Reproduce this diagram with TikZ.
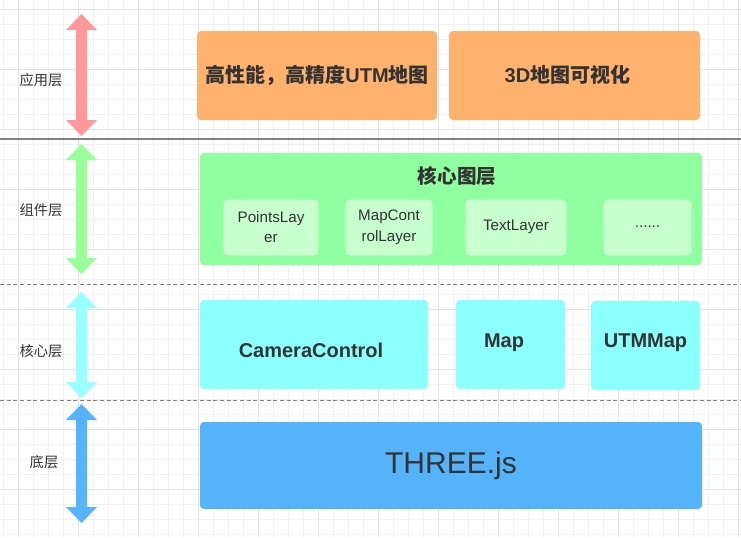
\documentclass[tikz,border=0pt]{standalone}
\usepackage{fontspec}
\setmainfont{Liberation Sans}
\newfontfamily\cjk{Noto Sans CJK SC}
\definecolor{txt}{HTML}{333333}
\definecolor{gridminor}{HTML}{F0F0F0}
\definecolor{gridmajor}{HTML}{E2E2E2}
\definecolor{sepline}{HTML}{808080}
\definecolor{orangebox}{HTML}{FFB26E}
\definecolor{greenbox}{HTML}{8FFF9F}
\definecolor{greeninner}{HTML}{C8FFCE}
\definecolor{greeninnerline}{HTML}{D6FFDC}
\definecolor{cyanbox}{HTML}{8CFFFF}
\definecolor{bluebox}{HTML}{55B3FA}
\definecolor{arrred}{HTML}{FF9999}
\definecolor{arrgreen}{HTML}{99FF99}
\definecolor{arrcyan}{HTML}{99FFFF}
\definecolor{arrblue}{HTML}{55B3FF}
\newcommand\mydblarrow[3]{%
  \fill[#1] (81.5,#2) -- (97,#2+16) -- (87,#2+16) -- (87,#3-16) -- (97,#3-16)
    -- (81.5,#3) -- (66,#3-16) -- (76,#3-16) -- (76,#2+16) -- (66,#2+16) -- cycle;}
\begin{document}
\begin{tikzpicture}[x=0.75pt,y=-0.75pt,
  box/.style={rounded corners=3pt, inner sep=0pt, draw=none},
  orangestyle/.style={box, fill=orangebox},
  greenstyle/.style={box, fill=greenbox},
  innerstyle/.style={box, fill=greeninner, draw=greeninnerline, line width=0.6pt},
  cyanstyle/.style={box, fill=cyanbox},
  bluestyle/.style={box, fill=bluebox},
  bigtext/.style={text=txt, font=\bfseries\fontsize{15pt}{18pt}\selectfont, inner sep=0pt},
  innertext/.style={text=txt, font=\fontsize{11.4pt}{15.5pt}\selectfont, align=center, inner sep=0pt},
  sidetext/.style={text=txt, font=\cjk\fontsize{10.7pt}{13pt}\selectfont, inner sep=0pt},
  sep/.style={draw=sepline, line width=0.8pt},
  dsep/.style={sep, dash pattern=on 3pt off 2pt}]
\useasboundingbox (0,0) rectangle (741,537);
\fill[white] (0,0) rectangle (741,537);
% grid
\foreach \x in {3,18,...,741} \draw[gridminor, line width=0.6pt] (\x,0) -- (\x,537);
\foreach \y in {9,24,...,537} \draw[gridminor, line width=0.6pt] (0,\y) -- (741,\y);
\foreach \x in {18,78,...,741} \draw[gridmajor, line width=0.6pt] (\x,0) -- (\x,537);
\foreach \y in {9,69,...,537} \draw[gridmajor, line width=0.6pt] (0,\y) -- (741,\y);
% separators
\coordinate (s1a) at (0,139); \coordinate (s1b) at (741,139);
\coordinate (s2a) at (0,284.5); \coordinate (s2b) at (741,284.5);
\coordinate (s3a) at (0,400.5); \coordinate (s3b) at (741,400.5);
\draw[sep] (s1a) -- (s1b);
\draw[dsep] (s2a) -- (s2b);
\draw[dsep] (s3a) -- (s3b);
% arrows
\mydblarrow{arrred}{14}{136}
\mydblarrow{arrgreen}{144}{274}
\mydblarrow{arrcyan}{292}{398}
\mydblarrow{arrblue}{404}{523}
% side labels
\node[sidetext] (l1) at (41,80) {应用层};
\node[sidetext] (l2) at (41,210) {组件层};
\node[sidetext] (l3) at (41,351) {核心层};
\node[sidetext] (l4) at (44,462) {底层};
% application layer
\node[orangestyle, minimum width=180pt, minimum height=66.75pt] (o1) at (317,75.5) {};
\node[bigtext] (o1t) at (317,75) {{\cjk\bfseries 高性能，高精度}UTM{\cjk\bfseries 地图}};
\node[orangestyle, minimum width=188.25pt, minimum height=66.75pt] (o2) at (574.5,75.5) {};
\node[bigtext] (o2t) at (567.5,75) {3D{\cjk\bfseries 地图可视化}};
% component layer
\node[greenstyle, minimum width=376.5pt, minimum height=84pt] (g) at (451,209) {};
\node[bigtext, font=\cjk\bfseries\fontsize{14.7pt}{17pt}\selectfont] (gt) at (457,176) {核心图层};
\node[innerstyle, minimum width=70.5pt, minimum height=41.25pt] (p1) at (271,227.5) {};
\node[innertext] (p1t) at (271,227) {PointsLay\\er};
\node[innerstyle, minimum width=64.5pt, minimum height=41.25pt] (p2) at (389,227.5) {};
\node[innertext] (p2t) at (389,227) {MapCont\\rolLayer};
\node[innerstyle, minimum width=75pt, minimum height=41.25pt] (p3) at (516,227.5) {};
\node[innertext] (p3t) at (516,227) {TextLayer};
\node[innerstyle, minimum width=65.25pt, minimum height=41.25pt] (p4) at (647.5,227.5) {};
\node[innertext] (p4t) at (647.5,227) {......};
% core layer
\node[cyanstyle, minimum width=171pt, minimum height=66.75pt] (c1) at (314,344.5) {};
\node[bigtext] (c1t) at (311,350) {CameraControl};
\node[cyanstyle, minimum width=81.75pt, minimum height=66.75pt] (c2) at (510.5,344.5) {};
\node[bigtext] (c2t) at (504,342.5) {Map};
\node[cyanstyle, minimum width=81.75pt, minimum height=66.75pt] (c3) at (645.5,345.5) {};
\node[bigtext] (c3t) at (645.5,342.5) {UTMMap};
% base layer
\node[bluestyle, minimum width=376.5pt, minimum height=65.25pt] (b) at (451,465.5) {};
\node[text=txt, font=\fontsize{22.5pt}{26pt}\selectfont, inner sep=0pt] (bt) at (451,466) {THREE.js};
\end{tikzpicture}
\end{document}
